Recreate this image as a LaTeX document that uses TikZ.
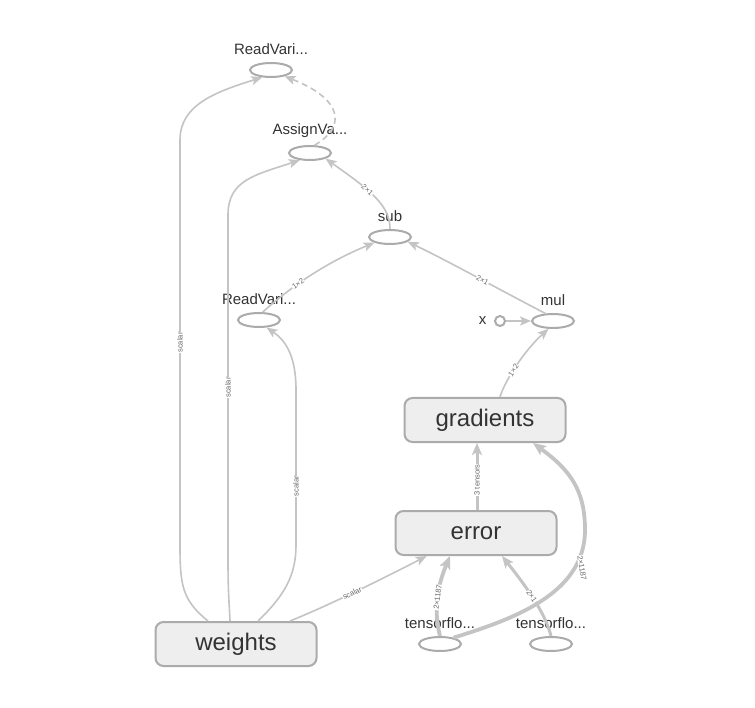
\documentclass[tikz,border=0pt]{standalone}
\usepackage{fontspec}
\setmainfont{Liberation Sans}
\usetikzlibrary{shapes.geometric,arrows.meta}
\definecolor{edgec}{HTML}{C4C4C4}
\definecolor{nodec}{HTML}{ABABAB}
\definecolor{fillc}{HTML}{EEEEEE}
\definecolor{textc}{HTML}{333333}
\definecolor{elabc}{HTML}{666666}
\tikzset{
  opnode/.style={ellipse,draw=nodec,line width=2pt,fill=white,minimum width=42pt,minimum height=14pt,inner sep=0pt},
  oplabel/.style={font=\fontsize{15}{17}\selectfont,text=textc,label distance=4pt},
  metanode/.style={rectangle,rounded corners=8pt,draw=nodec,line width=2pt,fill=fillc,minimum width=161pt,minimum height=44pt,text=textc,font=\fontsize{24}{27}\selectfont},
  edge/.style={draw=edgec,line width=1.6pt,-{Stealth[length=11pt,width=9pt,inset=2.5pt]}},
  thickedge/.style={draw=edgec,line width=3.8pt,-{Stealth[length=13pt,width=11pt,inset=3pt]}},
  midedge/.style={draw=edgec,line width=3pt,-{Stealth[length=12pt,width=10pt,inset=3pt]}},
  elab/.style={font=\fontsize{7.5}{8}\selectfont,text=elabc,sloped,inner sep=0.5pt,fill=white}
}
\begin{document}
\begin{tikzpicture}[x=1pt,y=-1pt]
\useasboundingbox[fill=white] (0,0) rectangle (755,708);

% op nodes
\node[opnode,label={[oplabel]above:ReadVari...}] (rv1) at (271,70) {};
\node[opnode,label={[oplabel]above:AssignVa...}] (av) at (310,153) {};
\node[opnode,label={[oplabel]above:sub}] (sub) at (390,237) {};
\node[opnode,label={[oplabel]above:ReadVari...}] (rv2) at (259,320) {};
\node[opnode,label={[oplabel]above:mul}] (mul) at (553,321) {};
\node[circle,draw=nodec,line width=2pt,fill=white,minimum size=10pt,inner sep=0pt,label={[oplabel,label distance=4pt]left:x}] (x) at (500,321) {};
\node[opnode,label={[oplabel]above:tensorflo...}] (tf1) at (440,644) {};
\node[opnode,label={[oplabel]above:tensorflo...}] (tf2) at (551,644) {};

% meta nodes
\node[metanode] (grad) at (485,420) {gradients};
\node[metanode] (err) at (476,533) {error};
\node[metanode] (w) at (236,644) {weights};

% edges from weights
\draw[edge] ([xshift=-28pt]w.north) .. controls (182,600) and (180,585) .. (180,545)
   -- node[elab,pos=0.5] {scalar} (180,140) .. controls (180,105) and (215,92) .. (rv1.220);
\draw[edge] ([xshift=-6pt]w.north) .. controls (229,600) and (228,590) .. (228,560)
   -- node[elab,pos=0.5] {scalar} (228,215) .. controls (228,180) and (255,175) .. (av.215);
\draw[edge] ([xshift=22pt]w.north) .. controls (285,595) and (296,575) .. (296,545)
   -- node[elab,pos=0.38] {scalar} (296,390) .. controls (296,355) and (285,340) .. (rv2.-45);
\draw[edge] ([xshift=54pt]w.north) .. controls (330,605) and (390,575) .. node[elab,pos=0.45] {scalar} (err.205);

% upper graph
\draw[edge] (rv2.65) .. controls (285,292) and (320,265) .. node[elab,pos=0.42] {1×2} (sub.200);
\draw[edge] (sub.north) .. controls (390,205) and (370,190) .. node[elab,pos=0.6] {2×1} (av.-20);
\draw[edge,dashed,dash pattern=on 6pt off 4pt] (av.60) .. controls (345,128) and (345,100) .. (rv1.-25);
\draw[edge] (mul.135) .. controls (500,290) and (450,262) .. node[elab,pos=0.45] {2×1} (sub.-15);
\draw[edge] (x.east) -- (mul.west);
\draw[edge] ([xshift=15pt]grad.north) .. controls (505,380) and (525,350) .. node[elab,pos=0.42] {1×2} (mul.-120);

% lower graph
\draw[midedge] ([xshift=1pt]err.north) -- node[elab,pos=0.45] {3 tensors} ([xshift=-8pt]grad.south);
\draw[thickedge] (tf1.north) .. controls (432,605) and (440,580) .. node[elab,pos=0.45] {2×1187} ([xshift=-26pt]err.south);
\draw[midedge] (tf2.north) .. controls (545,612) and (525,585) .. node[elab,pos=0.52] {2×1} ([xshift=26pt]err.south);
\draw[thickedge] (tf1.25) .. controls (510,620) and (585,595) .. (585,530)
   .. controls (585,490) and (570,470) .. ([xshift=48pt]grad.south);
\node[elab,rotate=-80] (lbl1187) at (582,568) {2×1187};
\end{tikzpicture}
\end{document}
